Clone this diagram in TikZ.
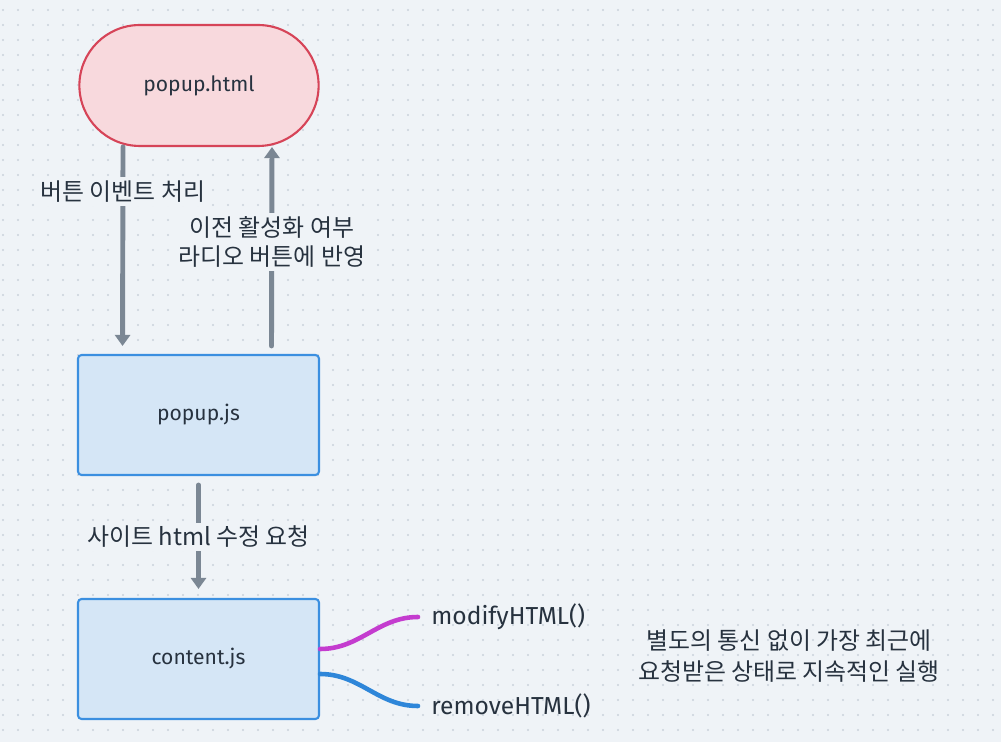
\documentclass[tikz,border=0pt]{standalone}
\usepackage{fontspec}
\setmainfont{Fira Sans}
\newfontfamily\kr{Noto Sans CJK KR}
\usetikzlibrary{arrows.meta,shapes.misc}

\definecolor{bgcol}{HTML}{EFF3F7}
\definecolor{dotcol}{HTML}{C9D1DB}
\definecolor{ink}{HTML}{27323F}
\definecolor{arrowgray}{HTML}{7B8794}
\definecolor{pinkfill}{HTML}{F8D9DD}
\definecolor{redline}{HTML}{D64458}
\definecolor{boxfill}{HTML}{D5E6F6}
\definecolor{boxline}{HTML}{3B8FE0}
\definecolor{magline}{HTML}{C43CCF}
\definecolor{blueline}{HTML}{2E86D9}

\begin{document}
\begin{tikzpicture}[
		x=0.02cm, y=-0.02cm, line join=round, line cap=round,
		box/.style={draw=boxline, fill=boxfill, line width=1.2pt, rounded corners=2pt,
			minimum width=4.82cm, minimum height=2.4cm, text=ink, font=\fontsize{12}{14}\selectfont},
		pill/.style={rounded rectangle, draw=redline, fill=pinkfill, line width=1.2pt,
			minimum width=5.02cm, minimum height=2.42cm, text=ink, font=\fontsize{12}{14}\selectfont},
		flow/.style={draw=arrowgray, line width=2.8pt, -{Triangle[width=0.3cm,length=0.22cm]}},
		lbl/.style={fill=bgcol, text=ink, inner sep=2pt, align=center, font=\kr\fontsize{13.6}{16.5}\selectfont},
		fn/.style={anchor=west, inner xsep=0.26cm, inner ysep=0pt, text=ink, font=\fontsize{14}{16}\selectfont},
		wire/.style={line width=2.6pt}
	]
	% background and dot grid
	\fill[bgcol] (0,0) rectangle (1001,742);
	\foreach \i in {0,...,66}
	\foreach \j in {0,...,48}
	\fill[dotcol] (3+15*\i,10+15*\j) circle (0.6pt);
	
	% files
	\node[pill] (html) at (199,85.5) {popup.html};
	\node[box] (pjs) at (198.5,415) {popup.js};
	\node[box] (cjs) at (198.5,659) {content.js};
	
	% messages
	\draw[flow, shorten >=0.16cm] ([xshift=-1.52cm]html.south) -- ([xshift=-1.52cm]pjs.north)
	node[lbl, pos=0.215] (l1) {버튼 이벤트 처리};
	\draw[flow, shorten <=0.16cm] ([xshift=1.46cm]pjs.north) -- ([xshift=1.46cm]html.south)
	node[lbl, pos=0.54] (l2) {이전 활성화 여부\\라디오 버튼에 반영};
	\draw[flow, shorten <=0.18cm, shorten >=0.18cm] (pjs.south) -- (cjs.north)
	node[lbl, pos=0.5] (l3) {사이트 html 수정 요청};
	
	% functions
	\node[fn] (mod) at (418,617) {modifyHTML()};
	\node[fn] (rem) at (418,706) {removeHTML()};
	\draw[wire, magline] ([yshift=0.2cm]cjs.east) to[out=0, in=180] (mod.west);
	\draw[wire, blueline] ([yshift=-0.3cm]cjs.east) to[out=0, in=180] (rem.west);
	
	\node[text=ink, align=center, font=\kr\fontsize{13.6}{17.6}\selectfont] (note) at (789,656)
	{별도의 통신 없이 가장 최근에\\요청받은 상태로 지속적인 실행};
\end{tikzpicture}
\end{document}
